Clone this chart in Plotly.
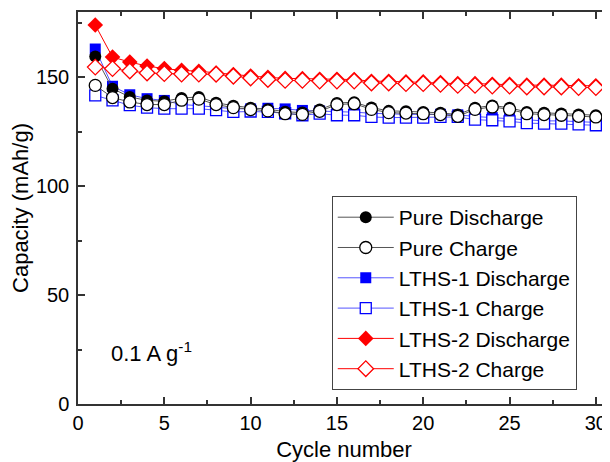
import plotly.graph_objects as go

cycles = list(range(1, 31))

pure_discharge = [159.6, 144.8, 141.0, 139.4, 139.0, 140.5, 141.0, 138.3, 137.0, 136.0,
                  135.4, 134.2, 133.8, 135.2, 138.2, 138.6, 136.1, 134.6, 134.4, 134.1,
                  133.7, 132.9, 136.0, 137.1, 136.0, 134.1, 133.7, 133.4, 132.9, 132.6]
pure_charge = [146.3, 140.7, 138.7, 137.5, 137.5, 139.5, 140.0, 137.5, 136.1, 135.2,
               134.6, 133.3, 133.0, 134.4, 137.5, 137.9, 135.3, 133.8, 133.6, 133.3,
               132.9, 132.1, 135.3, 136.4, 135.3, 133.3, 132.9, 132.6, 132.1, 131.8]
lths1_discharge = [163.0, 145.9, 142.0, 140.2, 139.4, 137.5, 137.0, 136.2, 135.6, 135.5,
                   135.8, 135.5, 134.8, 134.5, 134.3, 134.0, 133.5, 133.2, 133.0, 133.0,
                   133.0, 132.8, 132.0, 131.5, 131.0, 130.5, 130.0, 130.0, 129.6, 129.3]
lths1_charge = [141.7, 139.4, 137.2, 136.1, 135.6, 135.6, 135.6, 134.9, 134.1, 134.3,
                134.1, 133.5, 132.6, 133.3, 132.6, 132.6, 131.8, 131.5, 131.5, 131.5,
                131.8, 131.8, 130.6, 130.3, 129.8, 129.0, 128.7, 128.7, 128.4, 128.0]
lths2_discharge = [174.0, 159.3, 157.0, 155.2, 154.0, 153.2, 152.8, 152.0, 151.3, 150.6,
                   150.0, 149.5, 149.4, 149.1, 149.1, 149.0, 148.2, 148.2, 147.9, 147.9,
                   147.6, 147.1, 147.1, 146.8, 146.8, 146.4, 146.4, 146.4, 146.1, 146.1]
lths2_charge = [154.7, 154.0, 152.9, 152.0, 151.7, 151.5, 151.5, 151.4, 150.5, 149.7,
                149.0, 148.6, 148.6, 148.3, 148.3, 148.3, 147.4, 147.4, 147.1, 147.1,
                146.8, 146.3, 146.3, 146.0, 146.0, 145.6, 145.6, 145.6, 145.3, 145.3]

FONT = "Arial, Liberation Sans, sans-serif"

fig = go.Figure()

def add(name, y, color, linecolor, symbol, size, filled, rank):
    fig.add_trace(go.Scatter(
        x=cycles, y=y, name=name, mode="lines+markers", legendrank=rank,
        line=dict(color=linecolor, width=1),
        marker=dict(symbol=symbol, size=size,
                    color=color if filled else "white",
                    line=dict(color=color, width=0 if filled else 1.3)),
    ))

# drawing order (bottom to top)
add("LTHS-1 Discharge", lths1_discharge, "#0000ff", "#5555ff", "square", 11, True, 3)
add("LTHS-1 Charge", lths1_charge, "#0000ff", "#5555ff", "square", 11, False, 4)
add("Pure Discharge", pure_discharge, "#000000", "#555555", "circle", 12, True, 1)
add("Pure Charge", pure_charge, "#000000", "#555555", "circle", 12, False, 2)
add("LTHS-2 Discharge", lths2_discharge, "#ff0000", "#ff0000", "diamond", 12, True, 5)
add("LTHS-2 Charge", lths2_charge, "#ff0000", "#ff0000", "diamond", 12, False, 6)

axis_common = dict(
    showline=True, linecolor="#333333", linewidth=1.5,
    ticks="inside", tickcolor="#333333", tickwidth=1.5, ticklen=7,
    showgrid=False, zeroline=False, automargin=False,
    tickfont=dict(family=FONT, size=20, color="black"),
)

# page body has an 8px margin: figure sized/margined so the plot area lands
# at x 78..610, y 12..404 in the 610x462 window
fig.update_layout(
    width=602, height=454,
    margin=dict(l=70, r=0, t=4, b=58),
    paper_bgcolor="white", plot_bgcolor="white",
    font=dict(family=FONT, color="black"),
    xaxis=dict(
        range=[0, 30.82], tick0=0, dtick=5, mirror="ticks",
        minor=dict(ticks="inside", dtick=2.5, ticklen=4, tickcolor="#333333", tickwidth=1.5),
        title=dict(text="Cycle number", font=dict(family=FONT, size=22), standoff=10),
        **axis_common,
    ),
    yaxis=dict(
        range=[0, 180], tick0=0, dtick=50,
        minor=dict(ticks="inside", dtick=25, ticklen=4, tickcolor="#333333", tickwidth=1.5),
        title=dict(text="Capacity (mAh/g)", font=dict(family=FONT, size=22), standoff=2),
        ticklabelstandoff=3,
        **axis_common,
    ),
    yaxis2=dict(
        overlaying="y", side="right", range=[0, 180], tick0=0, dtick=50,
        showline=False, ticks="inside", ticklen=7, tickwidth=1.5, tickcolor="#333333",
        minor=dict(ticks="inside", dtick=25, ticklen=4, tickcolor="#333333", tickwidth=1.5),
        showticklabels=False, showgrid=False, zeroline=False,
    ),
    legend=dict(
        x=0.477, y=0.5305, xanchor="left", yanchor="top",
        bgcolor="white", bordercolor="#444444", borderwidth=1,
        font=dict(family=FONT, size=21, color="black"),
        itemwidth=56, tracegroupgap=0,
    ),
    showlegend=True,
    annotations=[dict(
        x=1.8, y=24, xref="x", yref="y", xanchor="left", yanchor="middle",
        text="0.1 A g<sup>-1</sup>", showarrow=False,
        font=dict(family=FONT, size=22, color="black"),
    )],
)

fig.write_html("out.html")
